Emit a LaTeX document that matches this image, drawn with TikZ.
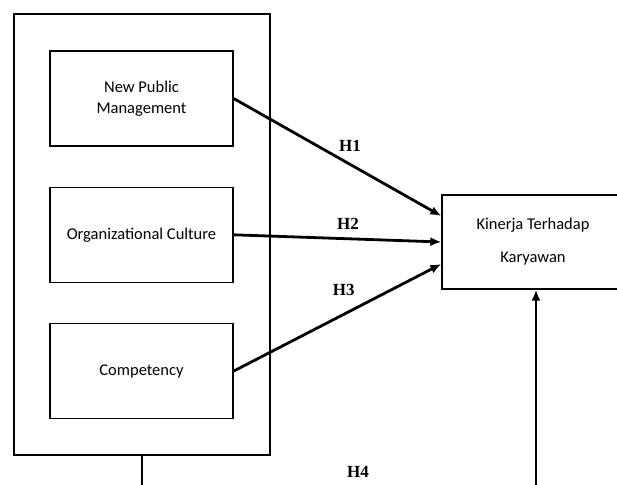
\documentclass[tikz,border=0pt]{standalone}
\usepackage{fontspec}
\setmainfont{Liberation Serif}
\newfontfamily\boxfont{Carlito}
\usetikzlibrary{positioning,arrows.meta}
\tikzset{node distance=40pt,
  var/.style={draw,line width=1.3pt,minimum width=183pt,minimum height=95pt,align=center,font=\boxfont\fontsize{16.5}{21}\selectfont},
  hyp/.style={font=\bfseries\fontsize{17}{20}\selectfont},
  link/.style={line width=2.8pt,-{Latex[length=11pt,width=9pt]}}}

\begin{document}
\begin{tikzpicture}[x=1pt,y=-1pt]
	\clip (0,0) rectangle (617,484);
	\node[draw,line width=1.3pt,minimum width=256pt,minimum height=441pt] (frame) at (142,234.5) {};

	\node[var] (npm) at (141.5,98.5) {New Public\\Management};
	\node[var] (oc) [below=of npm] {Organizational Culture};
	\node[var] (comp) [below=of oc] {Competency};

	\node[var,minimum width=182pt,minimum height=94pt] (kinerja) at (533,242) {Kinerja Terhadap\\[12pt]Karyawan};

	\coordinate (stub) at ([yshift=-40pt]frame.south);
	\coordinate (base) at (536,500);
	\node[hyp] (h4) at (358,472) {H4};

	\draw[line width=1.3pt] (frame.south) -- (stub);
	\path[link]
	(npm.east) edge node[hyp,pos=0.56,above=8pt] {H1} ([yshift=26pt]kinerja.west)
	(oc.east) edge node[hyp,pos=0.55,above=5pt] {H2} (kinerja.west)
	(comp.east) edge node[hyp,pos=0.53,above=14pt] {H3} ([yshift=-22pt]kinerja.west)
	(base) edge (base |- kinerja.south);
\end{tikzpicture}
\end{document}
